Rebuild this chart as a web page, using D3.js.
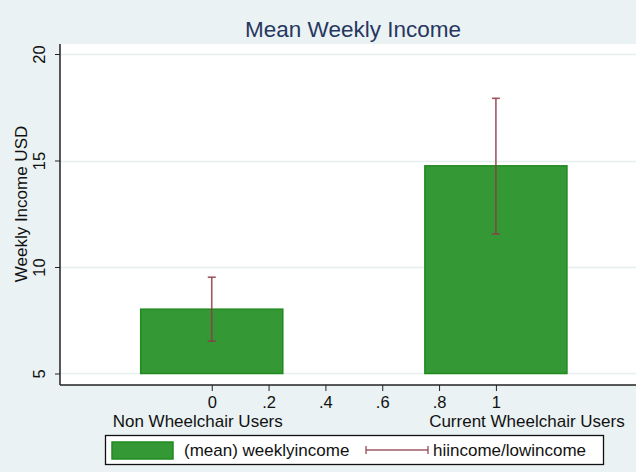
<!DOCTYPE html>
<html>
<head>
<meta charset="utf-8">
<script src="https://cdn.jsdelivr.net/npm/d3@7"></script>
<style>
  body { margin: 0; background: #eaf2f3; }
  svg { display: block; font-family: "Liberation Sans", Arial, sans-serif; }
</style>
</head>
<body>
<svg id="chart"></svg>
<script>
var width = 636;
var height = 472;

// data
var groups = [0, 1];
var groupNames = ["Non Wheelchair Users", "Current Wheelchair Users"];
var meanIncome = [8.02, 14.75];
var hiIncome = [9.52, 17.92];
var lowIncome = [6.52, 11.55];
var xTicks = [0, 0.2, 0.4, 0.6, 0.8, 1];
var yTicks = [5, 10, 15, 20];

var plot = { left: 60, top: 44, right: 636, bottom: 385 };

var svg = d3.select("#chart")
	.attr("width", width)
	.attr("height", height);

svg.append("rect")
	.attr("width", width)
	.attr("height", height)
	.attr("fill", "#eaf2f3");

var x = d3.scaleLinear()
	.domain([-0.534, 1.493])
	.range([plot.left, plot.right]);

var y = d3.scaleLinear()
	.domain([4.46, 20.47])
	.range([plot.bottom, plot.top]);

svg.append("rect")
	.attr("x", plot.left)
	.attr("y", plot.top)
	.attr("width", plot.right - plot.left)
	.attr("height", plot.bottom - plot.top)
	.attr("fill", "white");

// gridlines
svg.append("g")
	.selectAll("line")
	.data(yTicks)
	.join("line")
	.attr("x1", plot.left)
	.attr("x2", plot.right)
	.attr("y1", d => Math.round(y(d)) + 0.5)
	.attr("y2", d => Math.round(y(d)) + 0.5)
	.attr("stroke", "#e6eef0")
	.attr("stroke-width", 1.5);

// bars
svg.append("g")
	.selectAll("rect")
	.data(groups)
	.join("rect")
	.attr("x", (d, i) => x(d - 0.25))
	.attr("width", (d, i) => x(d + 0.25) - x(d - 0.25))
	.attr("y", (d, i) => y(meanIncome[i]))
	.attr("height", (d, i) => y(5) - y(meanIncome[i]))
	.attr("fill", "#349834")
	.attr("stroke", "#1f8a1f")
	.attr("stroke-width", 1.5);

// error bars (rcap)
var caps = svg.append("g")
	.attr("stroke", "#8e3b48")
	.attr("stroke-opacity", 0.85)
	.attr("stroke-width", 1.6);

groups.forEach(function (g, i) {
	var cx = x(g);
	caps.append("line")
		.attr("x1", cx).attr("x2", cx)
		.attr("y1", y(hiIncome[i])).attr("y2", y(lowIncome[i]));
	caps.append("line")
		.attr("x1", cx - 4).attr("x2", cx + 4)
		.attr("y1", y(hiIncome[i])).attr("y2", y(hiIncome[i]));
	caps.append("line")
		.attr("x1", cx - 4).attr("x2", cx + 4)
		.attr("y1", y(lowIncome[i])).attr("y2", y(lowIncome[i]));
});

// axes
var fmt = function (d) {
	return d === 0 || d === 1 ? String(d) : String(d).replace(/^0/, "");
};

var xAxis = d3.axisBottom(x)
	.tickValues(xTicks)
	.tickFormat(fmt)
	.tickSize(6)
	.tickPadding(5);

var xAxisGroup = svg.append("g")
	.attr("transform", "translate(0," + plot.bottom + ")")
	.call(xAxis);
xAxisGroup.select(".domain").remove();
xAxisGroup.append("line")
	.attr("x1", plot.left)
	.attr("x2", plot.right)
	.attr("stroke", "#222")
	.attr("stroke-width", 1.5);
xAxisGroup.selectAll(".tick line").attr("stroke", "#222");
xAxisGroup.selectAll("text")
	.attr("fill", "#111")
	.style("font-size", "16.5px")
	.style("font-family", "Liberation Sans, Arial, sans-serif");

var yAxis = d3.axisLeft(y)
	.tickValues(yTicks)
	.tickSize(5)
	.tickPadding(4);

var yAxisGroup = svg.append("g")
	.attr("transform", "translate(" + plot.left + ",0)")
	.call(yAxis);
yAxisGroup.select(".domain").remove();
yAxisGroup.append("line")
	.attr("y1", plot.top)
	.attr("y2", plot.bottom)
	.attr("stroke", "#222")
	.attr("stroke-width", 1.5);
yAxisGroup.selectAll(".tick line").attr("stroke", "#222");
yAxisGroup.selectAll("text")
	.attr("x", 0)
	.attr("dy", 0)
	.attr("transform", "translate(-15,0) rotate(-90)")
	.style("text-anchor", "middle")
	.attr("fill", "#111")
	.style("font-size", "16.5px")
	.style("font-family", "Liberation Sans, Arial, sans-serif");

// group labels under the axis
svg.append("g")
	.selectAll("text")
	.data(groups)
	.join("text")
	.attr("x", (d, i) => x(d) + (i === 0 ? -14 : 31))
	.attr("y", 427)
	.attr("text-anchor", "middle")
	.attr("fill", "#111")
	.style("font-size", "17px")
	.text((d, i) => groupNames[i]);

// y axis title
svg.append("text")
	.attr("transform", "translate(27," + 204 + ") rotate(-90)")
	.attr("text-anchor", "middle")
	.attr("fill", "#111")
	.style("font-size", "17px")
	.text("Weekly Income USD");

// title
svg.append("text")
	.attr("x", 353)
	.attr("y", 37)
	.attr("text-anchor", "middle")
	.attr("fill", "#27375f")
	.style("font-size", "22.5px")
	.text("Mean Weekly Income");

// legend
var legend = svg.append("g");
legend.append("rect")
	.attr("x", 105.5).attr("y", 435.5)
	.attr("width", 498).attr("height", 29)
	.attr("fill", "white")
	.attr("stroke", "#111")
	.attr("stroke-width", 1.3);
legend.append("rect")
	.attr("x", 112).attr("y", 442)
	.attr("width", 61).attr("height", 17)
	.attr("fill", "#349834")
	.attr("stroke", "#1f8a1f")
	.attr("stroke-width", 1.5);
legend.append("text")
	.attr("x", 184).attr("y", 456)
	.attr("fill", "#111")
	.style("font-size", "17px")
	.text("(mean) weeklyincome");
var lg = legend.append("g")
	.attr("stroke", "#8e3b48")
	.attr("stroke-opacity", 0.85)
	.attr("stroke-width", 1.4);
lg.append("line").attr("x1", 366).attr("x2", 428).attr("y1", 450).attr("y2", 450);
lg.append("line").attr("x1", 366).attr("x2", 366).attr("y1", 446).attr("y2", 454);
lg.append("line").attr("x1", 428).attr("x2", 428).attr("y1", 446).attr("y2", 454);
legend.append("text")
	.attr("x", 433).attr("y", 456)
	.attr("fill", "#111")
	.style("font-size", "17px")
	.text("hiincome/lowincome");
</script>
</body>
</html>
